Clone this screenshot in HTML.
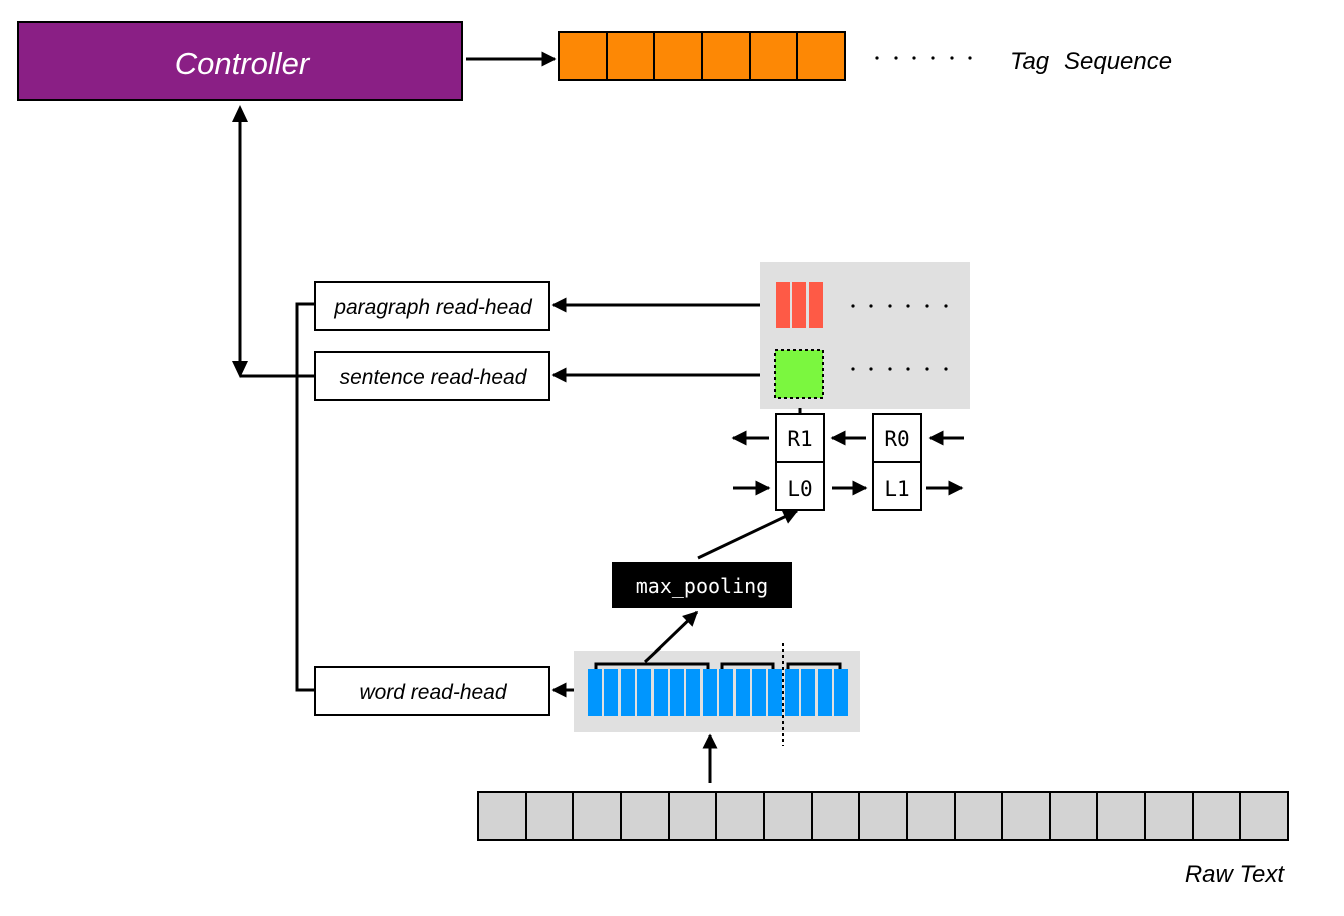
<!DOCTYPE html>
<html><head><meta charset="utf-8"><style>body{margin:0;background:#fff}svg{display:block}</style></head><body>
<svg width="1344" height="916" viewBox="0 0 1344 916" xmlns="http://www.w3.org/2000/svg" font-family="Liberation Sans, sans-serif">
<defs>
<marker id="b" viewBox="0 0 10 10" markerWidth="5" markerHeight="5" refX="9" refY="5" orient="auto" overflow="visible"><path d="M0,0 L10,5 L0,10z" fill="#000"/></marker></defs>
<rect x="18" y="22" width="444" height="78" fill="#8a1f85" stroke="#000" stroke-width="2"/>
<text x="242" y="74" font-size="31" font-style="italic" fill="#fff" text-anchor="middle">Controller</text>
<line x1="466" y1="59" x2="555" y2="59" stroke="#000" stroke-width="3" marker-end="url(#b)"/>
<g fill="#fd8805" stroke="#000" stroke-width="2">
<rect x="559" y="32" width="48" height="48"/><rect x="607" y="32" width="47" height="48"/><rect x="654" y="32" width="48" height="48"/><rect x="702" y="32" width="48" height="48"/><rect x="750" y="32" width="47" height="48"/><rect x="797" y="32" width="48" height="48"/></g>
<text x="1010" y="69" font-size="24" font-style="italic">Tag</text>
<text x="1064" y="69" font-size="24" font-style="italic">Sequence</text>
<line x1="240" y1="120" x2="240" y2="363" stroke="#000" stroke-width="3"/>
<path d="M232,122 L240,105 L248,122z M232,361 L240,378 L248,361z" fill="#000"/>
<line x1="240" y1="376" x2="315" y2="376" stroke="#000" stroke-width="3"/>
<path d="M315,304 H297 V690 H315" fill="none" stroke="#000" stroke-width="3"/>
<g fill="#fff" stroke="#000" stroke-width="2">
<rect x="315" y="282" width="234" height="48"/><rect x="315" y="352" width="234" height="48"/><rect x="315" y="667" width="234" height="48"/></g>
<g font-size="21" font-style="italic" text-anchor="middle">
<text x="433" y="314">paragraph read-head</text><text x="433" y="384">sentence read-head</text><text x="433" y="699">word read-head</text></g>
<line x1="760" y1="305" x2="553" y2="305" stroke="#000" stroke-width="3" marker-end="url(#b)"/>
<line x1="770" y1="375" x2="553" y2="375" stroke="#000" stroke-width="3" marker-end="url(#b)"/>
<line x1="586" y1="690" x2="553" y2="690" stroke="#000" stroke-width="3" marker-end="url(#b)"/>
<rect x="760" y="262" width="210" height="147" fill="#e0e0e0"/>
<g fill="#fe5a46"><rect x="776" y="282" width="14" height="46"/><rect x="792" y="282" width="14" height="46"/><rect x="809" y="282" width="14" height="46"/></g>
<rect x="775" y="350" width="48" height="48" fill="#7bf73f" stroke="#000" stroke-width="2" stroke-dasharray="3,3"/>
<g fill="#000">
<circle cx="877" cy="58" r="1.6"/><circle cx="896" cy="58" r="1.6"/><circle cx="914" cy="58" r="1.6"/><circle cx="933" cy="58" r="1.6"/><circle cx="952" cy="58" r="1.6"/><circle cx="970" cy="58" r="1.6"/>
<circle cx="853" cy="306" r="1.6"/><circle cx="871" cy="306" r="1.6"/><circle cx="890" cy="306" r="1.6"/><circle cx="908" cy="306" r="1.6"/><circle cx="927" cy="306" r="1.6"/><circle cx="946" cy="306" r="1.6"/>
<circle cx="853" cy="369" r="1.6"/><circle cx="871" cy="369" r="1.6"/><circle cx="890" cy="369" r="1.6"/><circle cx="908" cy="369" r="1.6"/><circle cx="927" cy="369" r="1.6"/><circle cx="946" cy="369" r="1.6"/></g>
<line x1="800" y1="408" x2="800" y2="414" stroke="#000" stroke-width="3"/>
<g fill="#fff" stroke="#000" stroke-width="2">
<rect x="776" y="414" width="48" height="48"/><rect x="776" y="462" width="48" height="48"/><rect x="873" y="414" width="48" height="48"/><rect x="873" y="462" width="48" height="48"/></g>
<g font-family="DejaVu Sans Mono, monospace" font-size="21" text-anchor="middle">
<text x="800" y="446">R1</text><text x="800" y="496">L0</text><text x="897" y="446">R0</text><text x="897" y="496">L1</text></g>
<g stroke="#000" stroke-width="3" marker-end="url(#b)">
<line x1="769" y1="438" x2="733" y2="438"/><line x1="866" y1="438" x2="832" y2="438"/><line x1="964" y1="438" x2="930" y2="438"/>
<line x1="733" y1="488" x2="769" y2="488"/><line x1="832" y1="488" x2="866" y2="488"/><line x1="926" y1="488" x2="962" y2="488"/>
<line x1="698" y1="558" x2="797" y2="511"/><line x1="645" y1="662" x2="697" y2="612"/><line x1="710" y1="783" x2="710" y2="735"/></g>
<rect x="612" y="562" width="180" height="46" fill="#000"/>
<text x="702" y="593" font-family="DejaVu Sans Mono, monospace" font-size="20" fill="#fff" text-anchor="middle">max_pooling</text>
<rect x="574" y="651" width="286" height="81" fill="#e0e0e0"/>
<g fill="#0096fe">
<rect x="588" y="669" width="14" height="47"/><rect x="604" y="669" width="14" height="47"/><rect x="621" y="669" width="14" height="47"/><rect x="637" y="669" width="14" height="47"/><rect x="654" y="669" width="14" height="47"/><rect x="670" y="669" width="14" height="47"/><rect x="686" y="669" width="14" height="47"/><rect x="703" y="669" width="14" height="47"/><rect x="719" y="669" width="14" height="47"/><rect x="736" y="669" width="14" height="47"/><rect x="752" y="669" width="14" height="47"/><rect x="768" y="669" width="14" height="47"/><rect x="785" y="669" width="14" height="47"/><rect x="801" y="669" width="14" height="47"/><rect x="818" y="669" width="14" height="47"/><rect x="834" y="669" width="14" height="47"/></g>
<g fill="none" stroke="#000" stroke-width="3">
<path d="M596,669 V664 H708 V669"/><path d="M722,669 V664 H773 V669"/><path d="M788,669 V664 H840 V669"/></g>
<line x1="645" y1="662" x2="660" y2="648" stroke="#000" stroke-width="3"/>
<line x1="783" y1="643" x2="783" y2="746" stroke="#000" stroke-width="2" stroke-dasharray="3,3"/>
<rect x="478" y="792" width="810" height="48" fill="#d3d3d3" stroke="#000" stroke-width="2"/>
<g stroke="#000" stroke-width="2">
<line x1="526" y1="792" x2="526" y2="840"/><line x1="573" y1="792" x2="573" y2="840"/><line x1="621" y1="792" x2="621" y2="840"/><line x1="669" y1="792" x2="669" y2="840"/><line x1="716" y1="792" x2="716" y2="840"/><line x1="764" y1="792" x2="764" y2="840"/><line x1="812" y1="792" x2="812" y2="840"/><line x1="859" y1="792" x2="859" y2="840"/><line x1="907" y1="792" x2="907" y2="840"/><line x1="955" y1="792" x2="955" y2="840"/><line x1="1002" y1="792" x2="1002" y2="840"/><line x1="1050" y1="792" x2="1050" y2="840"/><line x1="1097" y1="792" x2="1097" y2="840"/><line x1="1145" y1="792" x2="1145" y2="840"/><line x1="1193" y1="792" x2="1193" y2="840"/><line x1="1240" y1="792" x2="1240" y2="840"/></g>
<text x="1284" y="882" font-size="24" font-style="italic" text-anchor="end">Raw Text</text>
</svg>
</body></html>
